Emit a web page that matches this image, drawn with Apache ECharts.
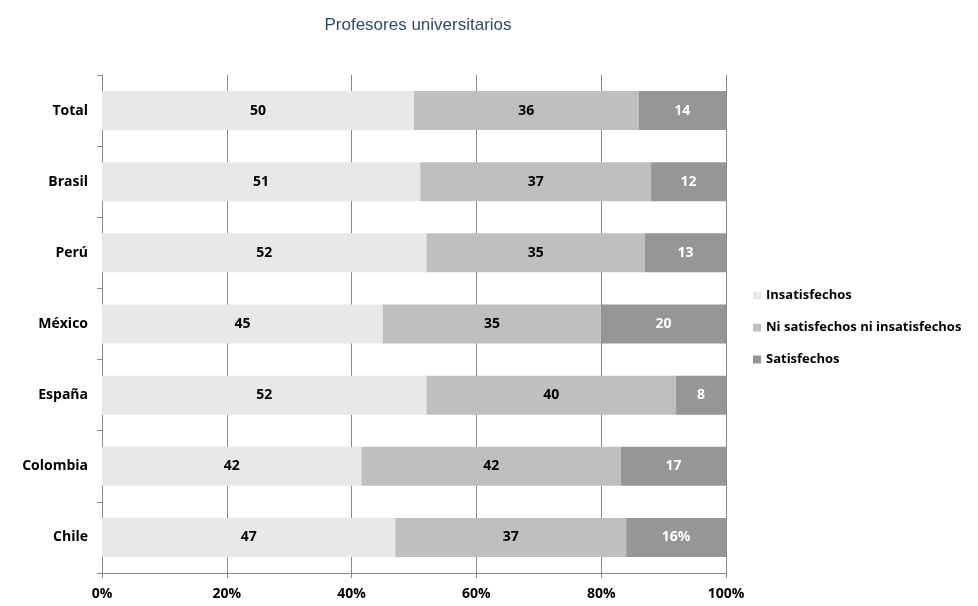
<!DOCTYPE html>
<html>
<head>
<meta charset="UTF-8">
<script src="https://cdn.jsdelivr.net/npm/echarts@6/dist/echarts.min.js"></script>
</head>
<body style="margin:0">
<div id="container" style="width:978px;height:606px;"></div>
<script>
var categories = ['Chile', 'Colombia', 'España', 'México', 'Perú', 'Brasil', 'Total'];
var insatisfechos = [47, 42, 52, 45, 52, 51, 50];
var neutros = [37, 42, 40, 35, 35, 37, 36];
var satisfechos = [16, 17, 8, 20, 13, 12, 14];
var names = ['Insatisfechos', 'Ni satisfechos ni insatisfechos', 'Satisfechos'];
var colors = ['#E8E8E8', '#BFBFBF', '#969696'];
var raw = [insatisfechos, neutros, satisfechos];

function pct(arr) {
  return arr.map(function (v, i) {
    var s = insatisfechos[i] + neutros[i] + satisfechos[i];
    return { value: v / s * 100, raw: v };
  });
}

var series = raw.map(function (arr, k) {
  return {
    name: names[k], type: 'bar', stack: 'a', barWidth: 39,
    itemStyle: { color: colors[k] },
    data: pct(arr),
    label: {
      show: true, position: 'inside', fontWeight: 'bold', fontSize: 14,
      fontFamily: 'Open Sans, sans-serif',
      color: k === 2 ? '#fff' : '#000',
      formatter: function (p) {
        return (k === 2 && p.name === 'Chile') ? p.data.raw + '%' : p.data.raw;
      }
    }
  };
});

var chart = echarts.init(document.getElementById('container'));
chart.setOption({
  animation: false,
  title: { text: 'Profesores universitarios', left: 413, top: 12, textAlign: 'center',
    textStyle: { color: '#2E4A6B', fontWeight: 'normal', fontSize: 17, fontFamily: 'Arial, sans-serif' } },
  legend: { orient: 'vertical', left: 748, top: 284, itemWidth: 8, itemHeight: 8, itemGap: 19,
    icon: 'rect', data: names,
    textStyle: { fontWeight: 'bold', fontSize: 13, fontFamily: 'Open Sans, sans-serif', color: '#000' } },
  grid: { left: 102, top: 75, width: 624, height: 498, containLabel: false },
  xAxis: { type: 'value', min: 0, max: 100, interval: 20,
    axisLabel: { formatter: '{value}%', fontWeight: 'bold', fontSize: 14, color: '#000', margin: 14, fontFamily: 'Open Sans, sans-serif' },
    axisLine: { show: true, lineStyle: { color: '#888' } },
    axisTick: { show: true, lineStyle: { color: '#888' } },
    splitLine: { lineStyle: { color: '#888' } } },
  yAxis: { type: 'category', data: categories,
    axisLabel: { fontWeight: 'bold', fontSize: 14, color: '#000', margin: 14, fontFamily: 'Open Sans, sans-serif' },
    axisLine: { lineStyle: { color: '#888' } },
    axisTick: { show: true, length: 5, lineStyle: { color: '#888' } } },
  series: series
});
</script>
</body>
</html>
